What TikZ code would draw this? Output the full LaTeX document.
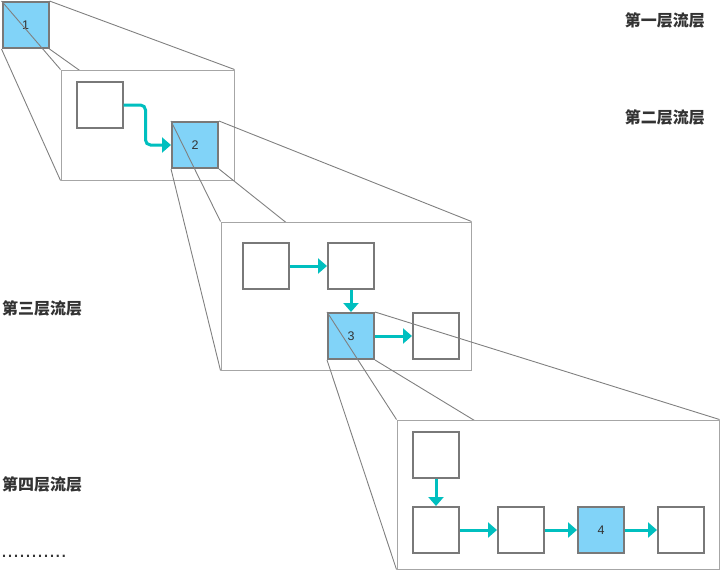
\documentclass[tikz,border=0pt]{standalone}
\usepackage{fontspec}
\setmainfont{Liberation Sans}
\newfontfamily\cjk{Noto Sans CJK SC}
\usetikzlibrary{arrows.meta}
\definecolor{boxfill}{HTML}{81D3F8}
\definecolor{boxline}{HTML}{797979}
\definecolor{arrowc}{HTML}{00BFBF}
\definecolor{framec}{HTML}{A6A6A6}
\definecolor{projc}{HTML}{808080}
\definecolor{txt}{HTML}{333333}
\pgfdeclarelayer{l0}
\pgfdeclarelayer{l1}
\pgfdeclarelayer{l2}
\pgfdeclarelayer{l3}
\pgfdeclarelayer{l4}
\pgfdeclarelayer{l5}
\pgfsetlayers{l0,l1,l2,l3,l4,l5,main}
\begin{document}
\begin{tikzpicture}[x=1pt,y=-1pt,
  cell/.style={draw=boxline, line width=2pt, fill=white, minimum size=46pt, inner sep=0pt, font=\fontsize{12.5}{14}\selectfont, text=txt},
  hot/.style={cell, fill=boxfill},
  frame/.style={draw=framec, line width=1pt, fill=white, inner sep=0pt},
  proj/.style={draw=projc, line width=0.9pt},
  arr/.style={draw=arrowc, line width=3pt, -{Triangle[length=9pt,width=15pt]}},
  lab/.style={font=\cjk\bfseries\fontsize{16}{19}\selectfont, text=txt, inner sep=0pt}]
\useasboundingbox (0,0) rectangle (721,571);

% level 1
\begin{pgfonlayer}{l0}
\node[hot] (b1) at (25.5,25) {1};
\end{pgfonlayer}

% level 2 frame
\begin{pgfonlayer}{l2}
\node[frame, minimum width=173pt, minimum height=110pt] (f2) at (147.5,125) {};
\node[cell] (c2a) at (99.5,105) {};
\node[hot] (b2) at (195,145) {2};
\draw[arr, rounded corners=5pt] (c2a.east) -- ++(22,0) |- (b2.west);
\end{pgfonlayer}

\begin{pgfonlayer}{l1}
\draw[proj] (b1.north west) -- (f2.north west);
\draw[proj] (b1.north east) -- (f2.north east);
\draw[proj] (b1.south east) -- (f2.south east);
\draw[proj] (b1.south west) -- (f2.south west);
\end{pgfonlayer}

% level 3 frame
\begin{pgfonlayer}{l4}
\node[frame, minimum width=250pt, minimum height=148pt] (f3) at (346,296) {};
\node[cell] (c3a) at (266,266) {};
\node[cell] (c3b) at (351,266) {};
\node[hot] (b3) at (351,336) {3};
\node[cell] (c3d) at (436,336) {};
\draw[arr] (c3a) -- (c3b);
\draw[arr] (c3b) -- (b3);
\draw[arr] (b3) -- (c3d);
\end{pgfonlayer}

\begin{pgfonlayer}{l3}
\draw[proj] (b2.north west) -- (f3.north west);
\draw[proj] (b2.north east) -- (f3.north east);
\draw[proj] (b2.south east) -- (f3.south east);
\draw[proj] (b2.south west) -- (f3.south west);
\end{pgfonlayer}

% level 4 frame
\node[frame, minimum width=322pt, minimum height=149pt] (f4) at (558,494.5) {};
\node[cell] (c4e) at (436,455) {};
\node[cell] (c4f) at (436,530) {};
\node[cell] (c4g) at (521,530) {};
\node[hot] (b4) at (601,530) {4};
\node[cell] (c4h) at (681,530) {};
\draw[arr] (c4e) -- (c4f);
\draw[arr] (c4f) -- (c4g);
\draw[arr] (c4g) -- (b4);
\draw[arr] (b4) -- (c4h);

\begin{pgfonlayer}{l5}
\draw[proj] (b3.north west) -- (f4.north west);
\draw[proj] (b3.north east) -- (f4.north east);
\draw[proj] (b3.south east) -- (f4.south east);
\draw[proj] (b3.south west) -- (f4.south west);
\end{pgfonlayer}

% labels
\node[lab, anchor=east] (t1) at (705,20) {第一层流层};
\node[lab, anchor=east] (t2) at (705,117) {第二层流层};
\node[lab, anchor=west] (t3) at (2,308) {第三层流层};
\node[lab, anchor=west] (t4) at (2,484) {第四层流层};
\node[anchor=base west, inner sep=0pt, text=txt, font=\fontsize{21.5}{24}\selectfont] (dots) at (1,557) {...........};
\end{tikzpicture}
\end{document}
